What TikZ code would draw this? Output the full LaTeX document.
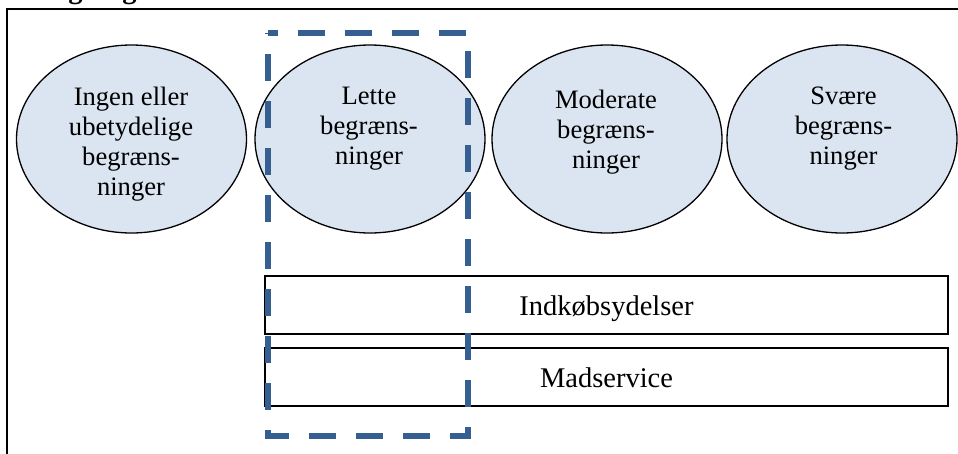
\documentclass[tikz,border=0pt]{standalone}
\usepackage{fontspec}
\setmainfont{Liberation Serif}
\usetikzlibrary{shapes.geometric}
\definecolor{ellfill}{HTML}{DBE5F1}
\definecolor{dashblue}{HTML}{365F91}
\begin{document}
\begin{tikzpicture}[x=1pt,y=-1pt,
  ell/.style={ellipse,draw=black,line width=1.3pt,fill=ellfill,minimum width=230pt,minimum height=188pt,inner sep=0pt},
  etext/.style={align=center,font=\fontsize{26.6}{30}\selectfont,inner sep=0pt,anchor=north},
  bar/.style={draw=black,line width=1.5pt,minimum width=683pt,minimum height=58pt,inner sep=0pt,
    text height=20pt,text depth=0pt,font=\fontsize{28.5}{32}\selectfont},
  zone/.style={draw=dashblue,line width=6pt,dash pattern=on 27pt off 20pt,dash phase=17pt},
  frame/.style={draw=black,line width=1.5pt}]
\useasboundingbox (0,0) rectangle (958,453);
\clip (0,0) rectangle (958,453);
% clipped heading
\node[anchor=base west,inner sep=0pt,font=\bfseries\fontsize{28.5}{32}\selectfont] (title) at (7,-1.5) {Udregning};
% outer frame (continues beyond the picture)
\coordinate (f1) at (7,470);
\coordinate (f2) at (7,9);
\coordinate (f3) at (975,9);
\draw[frame] (f1) -- (f2) -- (f3);
% ellipses
\node[ell] (e1) at (131.5,139) {};
\node[ell] (e2) at (370,139) {};
\node[ell] (e3) at (607,139) {};
\node[ell] (e4) at (842,139) {};
\node[etext] (t1) at (131,87) {Ingen eller\\ubetydelige\\begræns-\\ninger};
\node[etext] (t2) at (369,87) {Lette\\begræns-\\ninger};
\node[etext] (t3) at (606,90) {Moderate\\begræns-\\ninger};
\node[etext] (t4) at (843.5,87) {Svære\\begræns-\\ninger};
% bars
\node[bar] (r1) at (606.5,305) {Indkøbsydelser};
\node[bar] (r2) at (606.5,377) {Madservice};
% dashed zone
\coordinate (z1) at (267.5,33);
\coordinate (z2) at (467.5,33);
\coordinate (z3) at (467.5,436);
\coordinate (z4) at (267.5,436);
\draw[zone] (z1) -- (z2) -- (z3) -- (z4) -- cycle;
\end{tikzpicture}
\end{document}
